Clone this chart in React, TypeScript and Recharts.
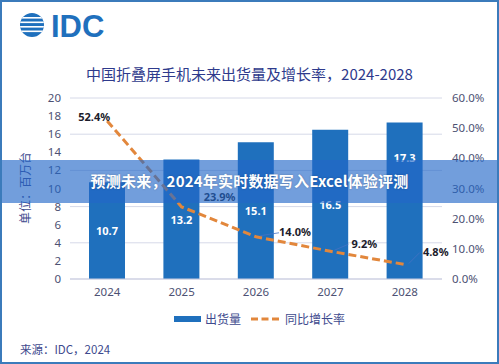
// Foldable phone shipments + YoY growth, bars + dashed line, recharts.

import { Bar, CartesianGrid, ComposedChart, LabelList, Line, XAxis, YAxis } from "recharts";

const years = ["2024", "2025", "2026", "2027", "2028"];
const shipments = [10.7, 13.2, 15.1, 16.5, 17.3];
const growth = [52.4, 23.9, 14.0, 9.2, 4.8];
const leftTicks = [0, 2, 4, 6, 8, 10, 12, 14, 16, 18, 20];
const rightTicks = [0, 10, 20, 30, 40, 50, 60];

const data = years.map((year, i) => ({ year, shipments: shipments[i], growth: growth[i] }));

const BLUE = "#1f70bd";
const ORANGE = "#e2873c";
const NAVY = "#2e3a8c";
const TICK = "#4d5173";
const FONT = "'Noto Sans', 'Noto Sans CJK SC', sans-serif";

// where each growth label sits relative to its point, and whether it gets a leader line
const growthLabelPos: [number, number, boolean][] = [
	[-13, -4, false],
	[38, -10, false],
	[39, -5, true],
	[34, -8, true],
	[31, -13, true],
];

function BarValue(props: any) {
	const { x, y, width, height, value, index } = props;
	const cy = index === 4 ? y + 35 : y + height / 2;
	return (
		<text x={x + width / 2} y={cy} fill="#fff" fontSize={11} fontWeight={700} textAnchor="middle" dominantBaseline="central" fontFamily={FONT}>
			{value}
		</text>
	);
}

function GrowthValue(props: any) {
	const { x, y, value, index } = props;
	const [dx, dy, leader] = growthLabelPos[index] ?? [0, -10, false];
	const cx = x + dx;
	const cy = y + dy;
	return (
		<g>
			{leader && (
				<line x1={x + 4} y1={y - 1} x2={cx - 16} y2={cy + 1} stroke="#4472c4" strokeWidth={0.8} />
			)}
			<text x={cx} y={cy} fill="#1c1c2c" fontSize={11} fontWeight={700} textAnchor="middle" dominantBaseline="central" fontFamily={FONT}>
				{value.toFixed(1)}%
			</text>
		</g>
	);
}

export default function App() {
	return (
		<div
			style={{
				position: "absolute",
				left: 0,
				top: 0,
				width: 499,
				height: 364,
				background: "#fff",
				boxSizing: "border-box",
				border: "2px solid #3b7bbb",
				fontFamily: FONT,
				overflow: "hidden",
			}}
		>
			<div style={{ position: "absolute", left: -2, top: -2 }}>
				<ComposedChart width={499} height={364} data={data} margin={{ top: 98, right: 7, bottom: 55, left: 10 }}>
					<CartesianGrid yAxisId="left" vertical={false} stroke="#d6d9e8" strokeWidth={1} />
					<XAxis
						dataKey="year"
						tickLine={false}
						tickSize={0}
						tickMargin={9}
						height={30}
						axisLine={{ stroke: "#c9cce0" }}
						tick={{ fill: TICK, fontSize: 11.5, fontFamily: FONT }}
					/>
					<YAxis
						yAxisId="left"
						domain={[0, 20]}
						ticks={leftTicks}
						width={60}
						axisLine={false}
						tickLine={false}
						tickSize={0}
						tickMargin={9}
						tick={{ fill: TICK, fontSize: 11.5, fontFamily: FONT }}
					/>
					<YAxis
						yAxisId="right"
						orientation="right"
						domain={[0, 60]}
						ticks={rightTicks}
						width={50}
						axisLine={false}
						tickLine={false}
						tickSize={0}
						tickMargin={10}
						tickFormatter={(v: number) => `${v.toFixed(1)}%`}
						tick={{ fill: TICK, fontSize: 11.5, fontFamily: FONT, textAnchor: "start" }}
					/>
					<Bar yAxisId="left" dataKey="shipments" fill={BLUE} barSize={36} isAnimationActive={false}>
						<LabelList dataKey="shipments" content={BarValue} />
					</Bar>
					<Line
						yAxisId="right"
						dataKey="growth"
						type="linear"
						stroke={ORANGE}
						strokeWidth={3}
						strokeDasharray="8 4"
						dot={false}
						activeDot={false}
						isAnimationActive={false}
					>
						<LabelList dataKey="growth" content={GrowthValue} />
					</Line>
				</ComposedChart>
			</div>

			{/* IDC logo */}
			<svg style={{ position: "absolute", left: 16, top: 7 }} width={120} height={34}>
				<defs>
					<clipPath id="globe">
						<circle cx={14} cy={16} r={12} />
					</clipPath>
				</defs>
				<g clipPath="url(#globe)">
					<rect x={0} y={0} width={30} height={32} fill={BLUE} />
					{[8, 12.5, 17, 21.5].map((y) => (
						<rect key={y} x={0} y={y} width={30} height={1.6} fill="#fff" />
					))}
				</g>
				<text x={33} y={28} fill={BLUE} fontSize={31} fontWeight={600} fontFamily="'Liberation Sans', Arial, sans-serif">
					IDC
				</text>
			</svg>

			<div
				style={{
					position: "absolute",
					left: 0,
					right: 0,
					top: 61,
					textAlign: "center",
					color: NAVY,
					fontSize: 15,
					fontFamily: "'Noto Sans CJK SC', sans-serif",
				}}
			>
				中国折叠屏手机未来出货量及增长率，2024-2028
			</div>

			<div
				style={{
					position: "absolute",
					left: 22,
					top: 186,
					transform: "translate(-50%, -50%) rotate(-90deg)",
					whiteSpace: "nowrap",
					color: "#3e4a8e",
					fontSize: 12,
					fontFamily: "'Noto Sans CJK SC', sans-serif",
				}}
			>
				单位：百万台
			</div>

			{/* legend */}
			<div
				style={{
					position: "absolute",
					left: 172,
					top: 308,
					display: "flex",
					alignItems: "center",
					color: "#3e4a8e",
					fontSize: 12,
					fontFamily: "'Noto Sans CJK SC', sans-serif",
				}}
			>
				<span style={{ display: "inline-block", width: 27, height: 6, background: BLUE, marginRight: 4 }} />
				<span>出货量</span>
				<svg width={30} height={8} style={{ marginLeft: 10, marginRight: 4 }}>
					<line x1={0} y1={4} x2={30} y2={4} stroke={ORANGE} strokeWidth={3} strokeDasharray="7 3.5" />
				</svg>
				<span>同比增长率</span>
			</div>

			<div
				style={{
					position: "absolute",
					left: 18,
					top: 339,
					color: "#3e4a8e",
					fontSize: 11.5,
					fontFamily: "'Noto Sans CJK SC', sans-serif",
				}}
			>
				来源：IDC，2024
			</div>

			{/* banner across the middle */}
			<div
				style={{
					position: "absolute",
					left: -2,
					width: 499,
					top: 158,
					height: 43,
					background: "rgba(34, 104, 200, 0.64)",
					display: "flex",
					alignItems: "center",
					justifyContent: "center",
					color: "#fff",
					fontSize: 15,
					fontWeight: 700,
					letterSpacing: 0.2,
					paddingBottom: 2,
					boxSizing: "border-box",
					textShadow: "0 0 2px rgba(0,0,0,0.25)",
					fontFamily: "'Noto Sans CJK SC', sans-serif",
				}}
			>
				预测未来，2024年实时数据写入Excel体验评测
			</div>
		</div>
	);
}
